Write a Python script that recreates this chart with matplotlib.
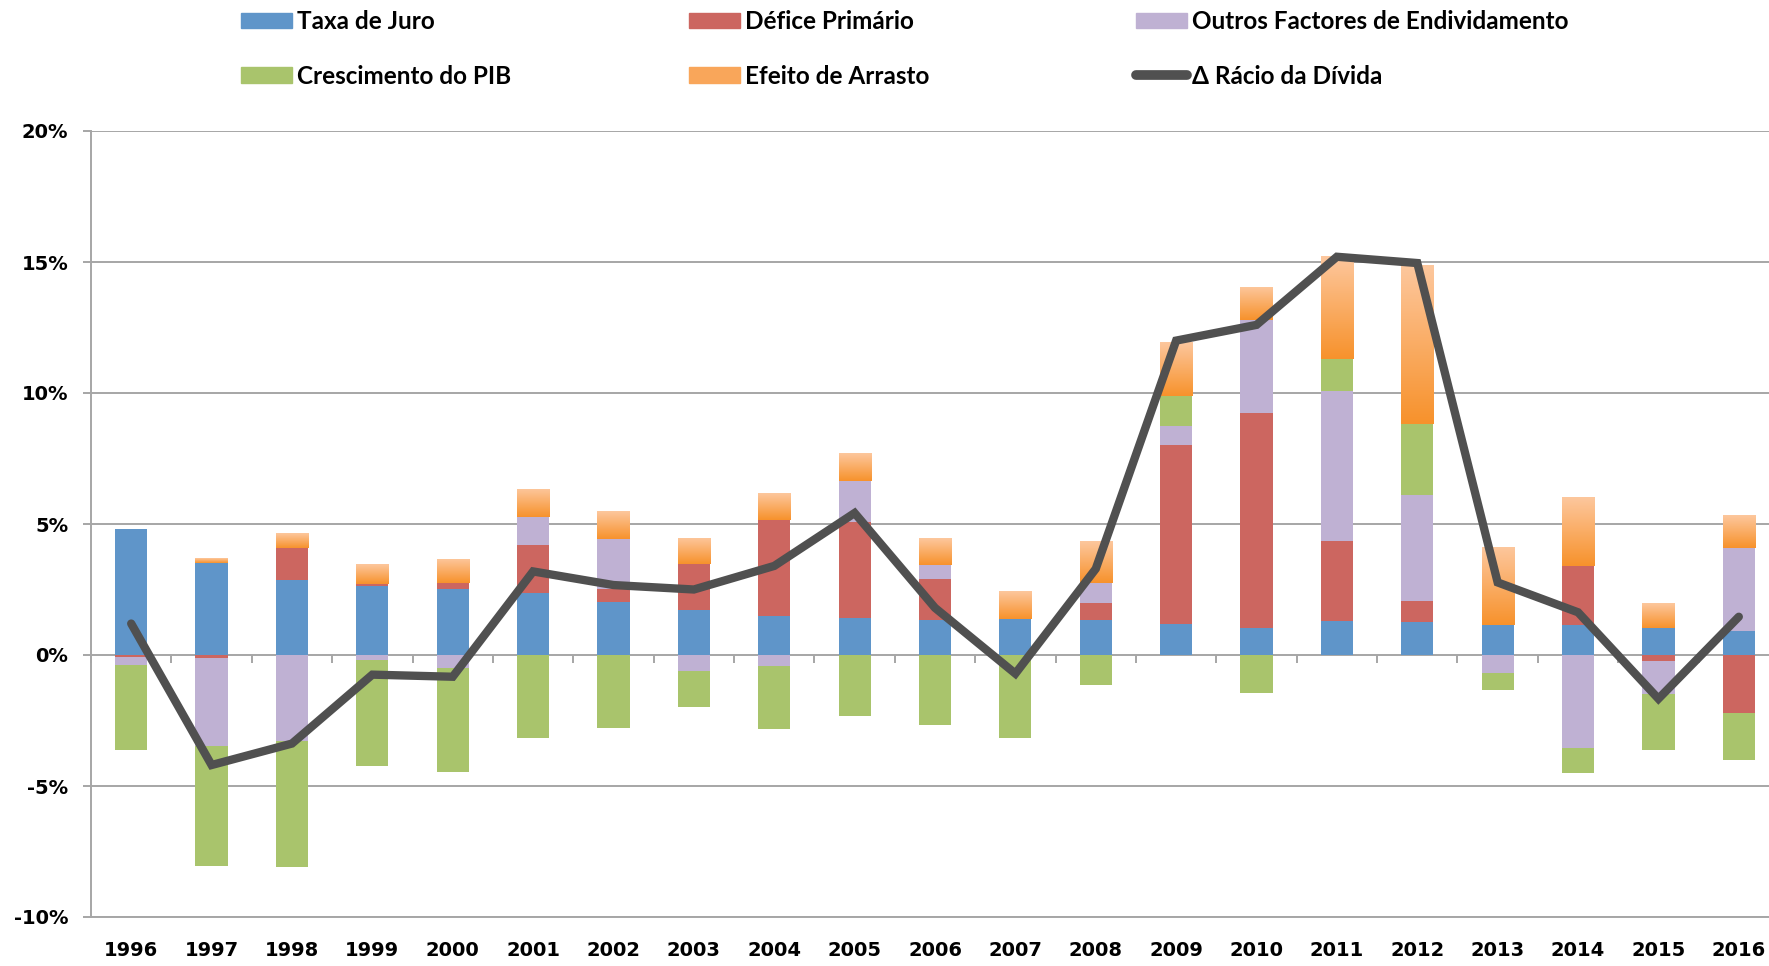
import numpy as np
import matplotlib
matplotlib.use('Agg')
import matplotlib.pyplot as plt
from matplotlib.lines import Line2D
from matplotlib.patches import Patch
from matplotlib.ticker import FuncFormatter

# dados (pontos percentuais do PIB)
anos = [str(a) for a in range(1996, 2017)]
taxa_juro = [4.81, 3.52, 2.85, 2.63, 2.52, 2.38, 2.02, 1.71, 1.50, 1.40, 1.33,
             1.38, 1.33, 1.19, 1.02, 1.29, 1.25, 1.15, 1.15, 1.04, 0.92]
defice_primario = [-0.08, -0.12, 1.23, 0.08, 0.23, 1.81, 0.50, 1.75, 3.67, 3.66, 1.56,
                   0.0, 0.65, 6.81, 8.23, 3.06, 0.81, 0.0, 2.25, -0.21, -2.23]
outros_factores = [-0.30, -3.36, -3.27, -0.20, -0.50, 1.06, 1.90, -0.60, -0.42, 1.60, 0.56,
                   0.0, 0.77, 0.73, 3.52, 5.71, 4.04, -0.69, -3.54, -1.29, 3.17]
crescimento_pib = [-3.25, -4.56, -4.81, -4.05, -3.98, -3.17, -2.79, -1.40, -2.39, -2.33, -2.69,
                   -3.17, -1.15, 1.17, -1.46, 1.23, 2.71, -0.65, -0.96, -2.13, -1.77]
efeito_arrasto = [0.0, 0.19, 0.56, 0.75, 0.92, 1.08, 1.06, 1.00, 1.00, 1.04, 1.00,
                  1.06, 1.60, 2.04, 1.27, 3.92, 6.06, 2.98, 2.63, 0.94, 1.25]
racio_divida = [1.20, -4.20, -3.38, -0.75, -0.83, 3.19, 2.67, 2.50, 3.40, 5.42, 1.80,
                -0.71, 3.29, 12.00, 12.60, 15.20, 14.96, 2.77, 1.63, -1.67, 1.46]

series = [
    ('Taxa de Juro', taxa_juro, '#5f95c9'),
    ('Défice Primário', defice_primario, '#cc6660'),
    ('Outros Factores de Endividamento', outros_factores, '#bfb1d3'),
    ('Crescimento do PIB', crescimento_pib, '#a9c46c'),
    ('Efeito de Arrasto', efeito_arrasto, '#f9a65a'),
]

grid_col = '#a6a6a6'
fig = plt.figure(figsize=(17.69, 9.66), dpi=100)
ax = fig.add_axes([91/1769, 49/966, 1688/1769, 786/966])

x = np.arange(len(anos))
pos = np.zeros(len(anos))
neg = np.zeros(len(anos))
bars = {}
for nome, vals, cor in series:
    v = np.array(vals)
    base = np.where(v >= 0, pos, neg)
    bars[nome] = ax.bar(x, v, 0.4, bottom=base, color=cor, zorder=2)
    pos = pos + np.clip(v, 0, None)
    neg = neg + np.clip(v, None, 0)

# degradê no efeito de arrasto
grad = np.linspace(0, 1, 100).reshape(-1, 1)
cmap = matplotlib.colors.LinearSegmentedColormap.from_list('arr', ['#f7922c', '#fdc79d'])
for b in bars['Efeito de Arrasto']:
    if b.get_height() == 0:
        continue
    bx, by = b.get_x(), b.get_y()
    im = ax.imshow(grad, cmap=cmap, origin='lower', aspect='auto', zorder=2.5,
                   extent=(bx, bx + b.get_width(), by, by + b.get_height()))
    im.set_clip_path(b)

ax.plot(x, racio_divida, color='#505050', lw=6, zorder=3,
        solid_capstyle='round', solid_joinstyle='miter')

ax.set_xlim(-0.5, len(anos) - 0.5)
ax.set_ylim(-10, 20)
ax.set_yticks(range(-10, 21, 5))
ax.yaxis.set_major_formatter(FuncFormatter(lambda v, p: f'{v:.0f}%'))
ax.set_xticks(x)
ax.set_xticklabels(anos)
ax.grid(axis='y', color=grid_col, lw=1.4, zorder=0)
ax.set_axisbelow(True)
for s in ['top', 'right']:
    ax.spines[s].set_visible(False)
for s in ['left', 'bottom']:
    ax.spines[s].set_color(grid_col)
    ax.spines[s].set_linewidth(1.4)
ax.tick_params(axis='y', color=grid_col, width=1.4, length=5.5, pad=11)
ax.tick_params(axis='x', length=0, pad=17)
for lbl in ax.get_xticklabels() + ax.get_yticklabels():
    lbl.set_fontfamily('DejaVu Sans')
    lbl.set_fontweight('bold')
    lbl.set_fontsize(14)

# marcas de categoria no eixo do zero
sec = ax.secondary_xaxis(1/3)
sec.set_xticks(np.arange(-0.5, len(anos), 1))
sec.tick_params(labelbottom=False, color=grid_col, width=1.4, length=5.5)
sec.spines['bottom'].set_visible(False)

# legenda em três colunas
hnd = {nome: Patch(color=cor) for nome, _, cor in series}
hnd['Δ Rácio da Dívida'] = Line2D([], [], color='#505050', lw=7, solid_capstyle='round')
colunas = [(['Taxa de Juro', 'Crescimento do PIB'], 241),
           (['Défice Primário', 'Efeito de Arrasto'], 689),
           (['Outros Factores de Endividamento', 'Δ Rácio da Dívida'], 1136)]
for nomes, xpx in colunas:
    fig.legend([hnd[n] for n in nomes], nomes, loc='upper left',
               bbox_to_anchor=(xpx/1769, 1 - 10/966), frameon=False,
               prop={'family': ['Lato', 'DejaVu Sans'], 'weight': 'bold', 'size': 17.5},
               handlelength=2.1, handleheight=0.62, handletextpad=0.22,
               labelspacing=1.3, borderpad=0, borderaxespad=0)

fig.savefig('out.png', dpi=100)
